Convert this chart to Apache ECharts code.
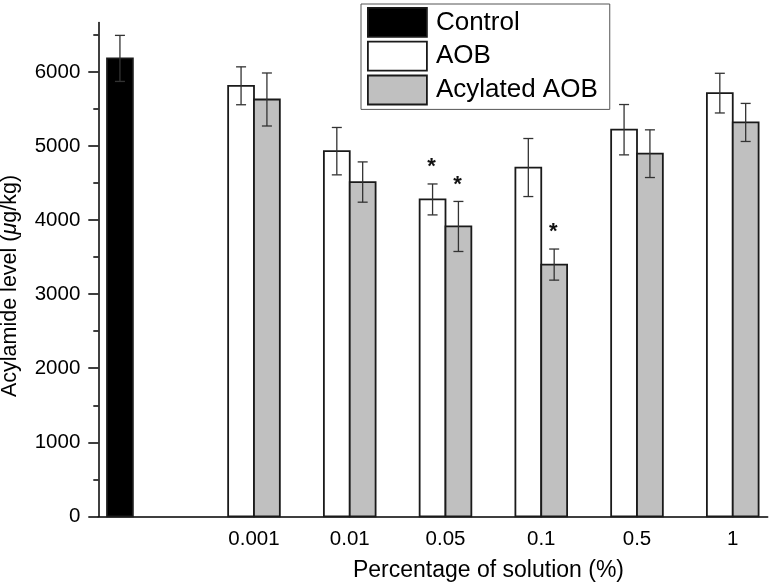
<!DOCTYPE html>
<html><head><meta charset="utf-8">
<script src="https://cdn.jsdelivr.net/npm/echarts@6/dist/echarts.min.js"></script>
<style>html,body{margin:0;padding:0;background:#fff}#c{width:772px;height:587px}</style>
</head><body><div id="c"></div>
<script>
// ---- data ----
const categories = ['0.001', '0.01', '0.05', '0.1', '0.5', '1'];
const controlValue = [6185];
const controlErr = [311];
const aobValues = [5815, 4932, 4280, 4711, 5222, 5716];
const aobErr = [256, 320, 209, 392, 340, 268];
const acylValues = [5630, 4515, 3915, 3400, 4898, 5320];
const acylErr = [358, 272, 338, 210, 322, 257];
const aobSig = [false, false, true, false, false, false];
const acylSig = [false, false, true, true, false, false];
const yMajorTicks = [0, 1000, 2000, 3000, 4000, 5000, 6000];
const yMinorTicks = [500, 1500, 2500, 3500, 4500, 5500, 6500];

// ---- layout constants ----
const CONTROL_POS = -0.4;
const BAR_W = 0.27;
const X_MIN = -0.626, X_MAX = 6.365, Y_MAX = 6670;
const FONT = '"Liberation Sans", Arial, sans-serif';

function makeRender(side, fill) {
  return function (params, api) {
    const x = api.value(0), v = api.value(1), e = api.value(2), sig = api.value(3);
    const x0 = side === 'left' ? x - BAR_W : side === 'right' ? x : x - BAR_W / 2;
    const x1 = x0 + BAR_W;
    const p0 = api.coord([x0, v]);
    const p1 = api.coord([x1, 0]);
    const xc = (p0[0] + p1[0]) / 2;
    const top = api.coord([x0, v + e])[1];
    const bot = api.coord([x0, v - e])[1];
    const es = { stroke: '#333', lineWidth: 1.3 };
    const children = [
      { type: 'rect', shape: { x: p0[0], y: p0[1], width: p1[0] - p0[0], height: p1[1] - p0[1] },
        style: { fill: fill, stroke: '#1a1a1a', lineWidth: 1.8 } },
      { type: 'line', shape: { x1: xc, y1: top, x2: xc, y2: bot }, style: es },
      { type: 'line', shape: { x1: xc - 5, y1: top, x2: xc + 5, y2: top }, style: es },
      { type: 'line', shape: { x1: xc - 5, y1: bot, x2: xc + 5, y2: bot }, style: es }
    ];
    if (sig) {
      children.push({ type: 'text', x: xc - 1, y: top - 17,
        style: { text: '*', fill: '#111', font: 'bold 22px ' + FONT, align: 'center', verticalAlign: 'middle' } });
    }
    return { type: 'group', children: children };
  };
}

const controlData = controlValue.map((v, i) => [CONTROL_POS, v, controlErr[i], 0]);
const aobData = categories.map((c, i) => [i + 1, aobValues[i], aobErr[i], aobSig[i] ? 1 : 0]);
const acylData = categories.map((c, i) => [i + 1, acylValues[i], acylErr[i], acylSig[i] ? 1 : 0]);

const chart = echarts.init(document.getElementById('c'), null, { renderer: 'canvas' });
chart.setOption({
  animation: false,
  backgroundColor: '#fff',
  grid: { left: 98.3, right: 4.3, top: 22.5, bottom: 70.7, containLabel: false },
  xAxis: {
    type: 'value', min: X_MIN, max: X_MAX,
    axisLine: { show: true, onZero: false, lineStyle: { color: '#000', width: 1.5 } },
    axisTick: { show: false },
    splitLine: { show: false },
    axisLabel: {
      customValues: categories.map((c, i) => i + 1),
      formatter: function (v) { return categories[Math.round(v) - 1] || ''; },
      fontSize: 20.5, fontFamily: FONT, color: '#000', margin: 13
    }
  },
  yAxis: [
    {
      type: 'value', min: 0, max: Y_MAX, position: 'left',
      axisLine: { show: true, onZero: false, lineStyle: { color: '#000', width: 1.5 } },
      axisTick: { show: true, length: 10, customValues: yMajorTicks, lineStyle: { color: '#000', width: 1.5 } },
      axisLabel: { customValues: yMajorTicks, formatter: function (v) { return String(v); },
        fontSize: 20.5, fontFamily: FONT, color: '#000', margin: 18 },
      splitLine: { show: false }
    },
    {
      type: 'value', min: 0, max: Y_MAX, position: 'left', offset: 0,
      axisLine: { show: false, onZero: false },
      axisTick: { show: true, length: 5, customValues: yMinorTicks, lineStyle: { color: '#000', width: 1.5 } },
      axisLabel: { show: false },
      splitLine: { show: false }
    }
  ],
  legend: {
    orient: 'vertical', left: 361, top: 4, padding: [3, 12, 4, 6], itemGap: 3,
    itemWidth: 59, itemHeight: 29, borderColor: '#555', borderWidth: 1, backgroundColor: '#fff',
    selectedMode: false,
    textStyle: { fontSize: 26, fontFamily: FONT, color: '#000', padding: [0, 0, 0, 4] },
    data: [
      { name: 'Control', icon: 'rect', itemStyle: { color: '#000', borderColor: '#1a1a1a', borderWidth: 1.8 } },
      { name: 'AOB', icon: 'rect', itemStyle: { color: '#fff', borderColor: '#1a1a1a', borderWidth: 1.8 } },
      { name: 'Acylated AOB', icon: 'rect', itemStyle: { color: '#c0c0c0', borderColor: '#1a1a1a', borderWidth: 1.8 } }
    ]
  },
  series: [
    { name: 'Control', type: 'custom', xAxisIndex: 0, yAxisIndex: 0, data: controlData,
      encode: { x: 0, y: 1 }, itemStyle: { color: '#000' }, renderItem: makeRender('center', '#000') },
    { name: 'AOB', type: 'custom', xAxisIndex: 0, yAxisIndex: 0, data: aobData,
      encode: { x: 0, y: 1 }, itemStyle: { color: '#fff' }, renderItem: makeRender('left', '#fff') },
    { name: 'Acylated AOB', type: 'custom', xAxisIndex: 0, yAxisIndex: 0, data: acylData,
      encode: { x: 0, y: 1 }, itemStyle: { color: '#c0c0c0' }, renderItem: makeRender('right', '#c0c0c0') }
  ],
  graphic: [
    { type: 'text', x: 488.5, y: 571,
      style: { text: 'Percentage of solution (%)', fill: '#000', font: '23px ' + FONT, align: 'center', verticalAlign: 'middle' } },
    { type: 'text', x: 10.5, y: 286, rotation: Math.PI / 2,
      style: {
        text: '{n|Acylamide level (}{i|μ}{n|g/kg)}', fill: '#000', align: 'center', verticalAlign: 'middle',
        rich: {
          n: { fontSize: 21.5, fontFamily: FONT, fill: '#000' },
          i: { fontSize: 21.5, fontFamily: FONT, fontStyle: 'italic', fill: '#000' }
        }
      } }
  ]
});
</script>
</body></html>
